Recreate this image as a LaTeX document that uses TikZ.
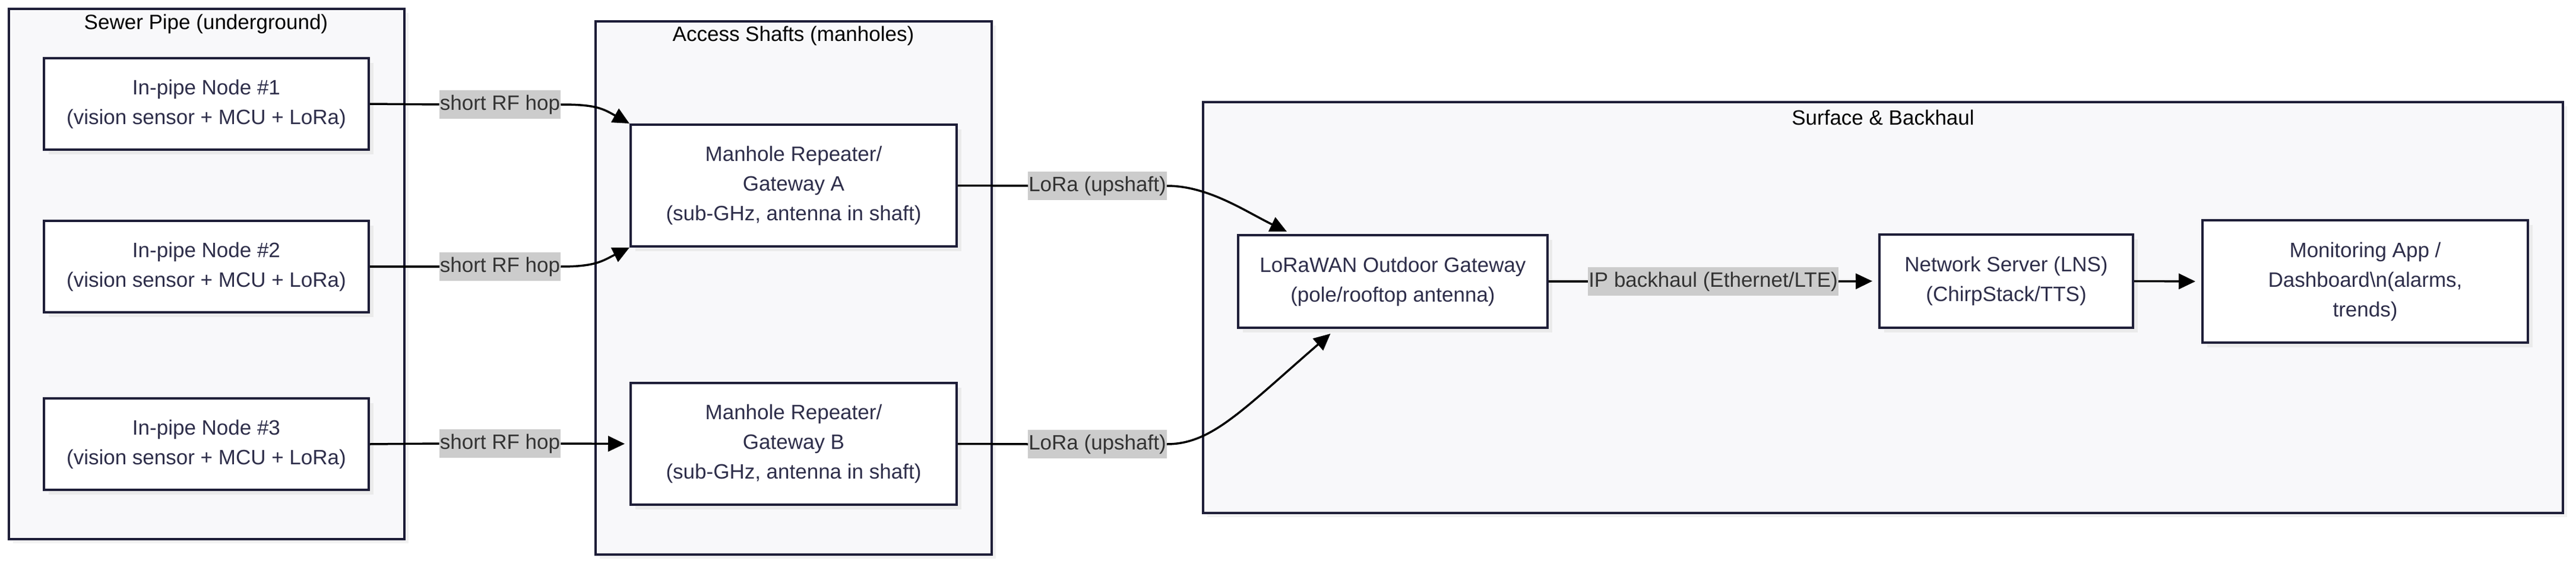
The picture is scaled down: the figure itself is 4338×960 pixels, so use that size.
\documentclass[tikz,border=0pt]{standalone}
\usepackage{fontspec}
\setmainfont{Liberation Sans}
\usetikzlibrary{arrows.meta,shadows,calc}
\definecolor{cstroke}{HTML}{1E1E38}
\definecolor{cfill}{HTML}{F8F8FA}
\definecolor{ntext}{HTML}{2E2E4A}
\definecolor{lblfill}{HTML}{CCCCCC}
\definecolor{lbltext}{HTML}{333333}
\newcommand\fsz{\fontsize{35}{50}\selectfont}
\tikzset{
  cluster/.style={draw=cstroke, fill=cfill, line width=3.5pt, inner sep=0pt,
    drop shadow={shadow xshift=7pt, shadow yshift=-7pt, fill=black!5, opacity=1}},
  box/.style={draw=cstroke, fill=white, line width=4pt, text=ntext, align=center,
    font=\fsz, inner sep=0pt,
    drop shadow={shadow xshift=8pt, shadow yshift=-8pt, fill=black!8, opacity=1}},
  lbl/.style={fill=lblfill, text=lbltext, font=\fsz, inner xsep=1pt, inner ysep=0pt,
    minimum height=48pt},
  ctitle/.style={font=\fsz, text=black, inner sep=0pt},
  edge/.style={line width=3.5pt, draw=black},
  arr/.style={edge, -{Triangle[length=28pt,width=26pt]}}
}
\begin{document}
\begin{tikzpicture}[x=1pt,y=-1pt]
\useasboundingbox[fill=white] (0,0) rectangle (4338,960);
% clusters
\node[cluster, minimum width=666pt, minimum height=893pt] (sewer) at (348,461.5) {};
\node[cluster, minimum width=667pt, minimum height=898pt] (access) at (1336.5,485) {};
\node[cluster, minimum width=2290pt, minimum height=692pt] (surface) at (3171,518) {};
\node[ctitle] (tsewer) at (347,40) {Sewer Pipe (underground)};
\node[ctitle] (taccess) at (1336,60) {Access Shafts (manholes)};
\node[ctitle] (tsurface) at (3171,198) {Surface \& Backhaul};
% nodes
\node[box, minimum width=547pt, minimum height=154pt] (n1) at (347.5,175) {In-pipe Node \#1\\(vision sensor + MCU + LoRa)};
\node[box, minimum width=547pt, minimum height=154pt] (n2) at (347.5,449) {In-pipe Node \#2\\(vision sensor + MCU + LoRa)};
\node[box, minimum width=547pt, minimum height=154pt] (n3) at (347.5,748) {In-pipe Node \#3\\(vision sensor + MCU + LoRa)};
\node[box, minimum width=549pt, minimum height=205pt] (gwA) at (1336.5,312.5) {Manhole Repeater/\\Gateway A\\(sub-GHz, antenna in shaft)};
\node[box, minimum width=549pt, minimum height=205pt] (gwB) at (1336.5,747.5) {Manhole Repeater/\\Gateway B\\(sub-GHz, antenna in shaft)};
\node[box, minimum width=521pt, minimum height=156pt] (lgw) at (2345.5,474) {LoRaWAN Outdoor Gateway\\(pole/rooftop antenna)};
\node[box, minimum width=427pt, minimum height=157pt] (lns) at (3378.5,473.5) {Network Server (LNS)\\(ChirpStack/TTS)};
\node[box, minimum width=548pt, minimum height=206pt] (app) at (3983,474) {Monitoring App /\\Dashboard\textbackslash n(alarms,\\trends)};
% labels
\node[lbl] (l1) at (842,176) {short RF hop};
\node[lbl] (l2) at (842,449) {short RF hop};
\node[lbl] (l3) at (842,747) {short RF hop};
\node[lbl] (l4) at (1848,313) {LoRa (upshaft)};
\node[lbl] (l5) at (1848,748) {LoRa (upshaft)};
\node[lbl] (l6) at (2885,474) {IP backhaul (Ethernet/LTE)};
% connector end points
\coordinate (lgwA) at ($(lgw.north west)!0.16!(lgw.north east)+(0,-4)$);
\coordinate (lgwB) at ($(lgw.south west)!0.30!(lgw.south east)+(0,8)$);
% edges
\draw[edge] (n1.east) -- (l1.west);
\draw[arr] (l1.east) .. controls +(60,0) and +(-45,-25) .. (gwA.north west);
\draw[edge] (n2.east) -- (l2.west);
\draw[arr] (l2.east) .. controls +(60,0) and +(-45,22) .. (gwA.south west);
\draw[edge] (n3.east) -- (l3.west);
\draw[arr] (l3.east) -- ($(gwB.west)+(-8,0)$);
\draw[edge] (gwA.east) -- (l4.west);
\draw[arr] (l4.east) .. controls +(70,0) and +(-70,-34) .. (lgwA);
\draw[edge] (gwB.east) -- (l5.west);
\draw[arr] (l5.east) .. controls +(75,0) and +(-150,130) .. (lgwB);
\draw[edge] (lgw.east) -- (l6.west);
\draw[arr] (l6.east) -- ($(lns.west)+(-10,0)$);
\draw[arr] (lns.east) -- ($(app.west)+(-10,0)$);
\end{tikzpicture}
\end{document}
